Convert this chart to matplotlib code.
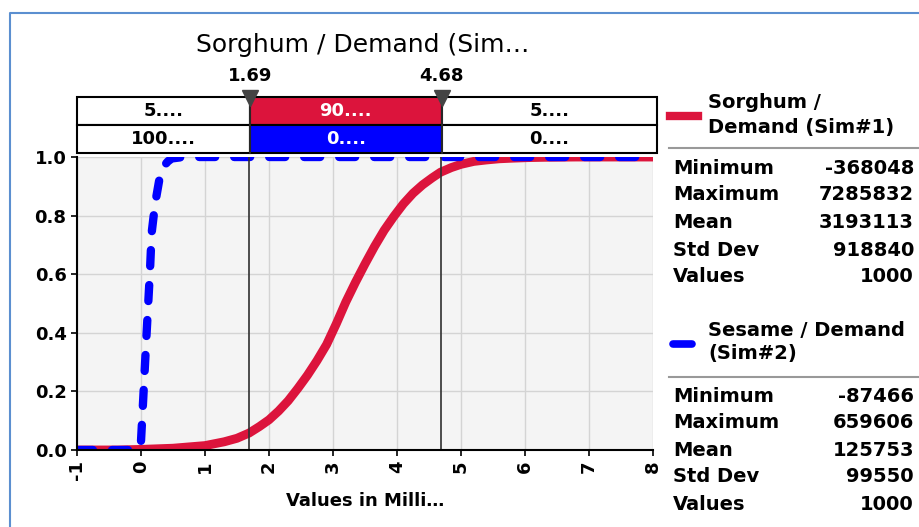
import numpy as np
import matplotlib
matplotlib.use("Agg")
import matplotlib.pyplot as plt
from matplotlib.lines import Line2D
from matplotlib.patches import Rectangle
import matplotlib.transforms as mtransforms

# data (values in millions)
sorghum_x = [-1, -0.37, 0, 0.5, 1.0, 1.3, 1.5, 1.69, 1.85, 2.0, 2.15, 2.3, 2.45, 2.6,
             2.75, 2.9, 3.05, 3.2, 3.35, 3.5, 3.65, 3.8, 3.95, 4.1, 4.25, 4.4, 4.55,
             4.68, 4.85, 5.0, 5.2, 5.4, 5.6, 5.8, 6.05, 6.3, 6.8, 7.29, 8]
sorghum_y = [0, 0, 0.002, 0.006, 0.015, 0.028, 0.04, 0.058, 0.08, 0.103, 0.133, 0.168,
             0.21, 0.255, 0.305, 0.36, 0.43, 0.505, 0.572, 0.635, 0.695, 0.75, 0.797,
             0.84, 0.876, 0.905, 0.929, 0.948, 0.964, 0.975, 0.985, 0.99, 0.994, 0.996,
             0.998, 0.999, 1, 1, 1]
sesame_x = [-1, -0.087, -0.02, 0.0, 0.036, 0.088, 0.14, 0.166, 0.22, 0.30, 0.36, 0.42,
            0.48, 0.66, 8]
sesame_y = [0, 0, 0.01, 0.03, 0.18, 0.40, 0.61, 0.74, 0.84, 0.94, 0.97, 0.985,
            0.995, 1, 1]

left_cut, right_cut = 1.69, 4.68
x_ticks = [-1, 0, 1, 2, 3, 4, 5, 6, 7, 8]
band_sorghum = ["5....", "90....", "5...."]
band_sesame = ["100....", "0....", "0...."]

stat_names = ["Minimum", "Maximum", "Mean", "Std Dev", "Values"]
stats_sorghum = ["-368048", "7285832", "3193113", "918840", "1000"]
stats_sesame = ["-87466", "659606", "125753", "99550", "1000"]

RED = "#dc143c"
BLUE = "#0000ff"

W, H = 919, 527
fig = plt.figure(figsize=(W / 100, H / 100), dpi=100)


def fx(x):
    return x / W


def fy(y):
    return 1 - y / H


# outer frame
fig.add_artist(Line2D([fx(10), fx(10), 1], [0, fy(13), fy(13)], color="#5b8fd0", lw=1.5))

# main axes
ax = fig.add_axes([fx(77), fy(450), fx(653 - 77), (450 - 157) / H])
ax.set_facecolor("#f4f4f4")
ax.set_xlim(-1, 8)
ax.set_ylim(0, 1)
ax.set_xticks(x_ticks)
ax.set_xticklabels([str(t) for t in x_ticks], rotation=90, fontweight="bold")
ax.set_yticks([0, 0.2, 0.4, 0.6, 0.8, 1.0])
ax.set_yticklabels(["0.0", "0.2", "0.4", "0.6", "0.8", "1.0"], fontweight="bold")
ax.grid(True, color="#d4d4d4", lw=1)
ax.set_axisbelow(True)
for s in ["top", "right"]:
    ax.spines[s].set_visible(False)
for s in ["left", "bottom"]:
    ax.spines[s].set_linewidth(1.5)
ax.tick_params(axis="both", labelsize=13, width=1.2, length=4)
ax.set_xlabel("Values in Milli…", fontsize=13, fontweight="bold", labelpad=8)

ax.plot(sorghum_x, sorghum_y, color=RED, lw=6.4, solid_capstyle="round",
        solid_joinstyle="round")
plt.rcParams["lines.scale_dashes"] = False
ax.plot(sesame_x, sesame_y, color=BLUE, lw=6.0, dashes=(11.5, 13.7),
        dash_capstyle="round")
ax.axvline(left_cut, color="#303030", lw=1.2)
ax.axvline(right_cut, color="#303030", lw=1.2)

# band boxes above the plot
bx = fig.add_axes([fx(77), fy(153), fx(655 - 77), (153 - 97) / H], sharex=ax)
bx.set_ylim(0, 2)
bx.axis("off")
edges = [-1, left_cut, right_cut, 8.03]
for i in range(3):
    c_top = RED if i == 1 else "white"
    c_bot = BLUE if i == 1 else "white"
    bx.add_patch(Rectangle((edges[i], 1), edges[i + 1] - edges[i], 1, facecolor=c_top,
                           edgecolor="black", lw=1.5, clip_on=False))
    bx.add_patch(Rectangle((edges[i], 0), edges[i + 1] - edges[i], 1, facecolor=c_bot,
                           edgecolor="black", lw=1.5, clip_on=False))
    tc = "white" if i == 1 else "black"
    mid = (edges[i] + edges[i + 1]) / 2
    bx.text(mid, 1.5, band_sorghum[i], ha="center", va="center", fontsize=13,
            fontweight="bold", color=tc)
    bx.text(mid, 0.5, band_sesame[i], ha="center", va="center", fontsize=13,
            fontweight="bold", color=tc)

trans = mtransforms.blended_transform_factory(bx.transData, bx.transAxes)
for cut in [left_cut, right_cut]:
    bx.plot([cut, cut], [0, 1], color="#303030", lw=1.2, transform=trans, clip_on=False)
    bx.plot(cut, 0.99, marker="v", markersize=11, color="#444444", transform=trans,
            clip_on=False)
    bx.text(cut, 1.38, "%.2f" % cut, ha="center", va="center", fontsize=13,
            fontweight="bold", transform=trans)

fig.text(fx(363), fy(45), "Sorghum / Demand (Sim…", ha="center", va="center", fontsize=18)

# legend / statistics panel
fig.add_artist(Line2D([fx(670), fx(698)], [fy(116), fy(116)], color=RED, lw=6))
fig.text(fx(708), fy(102), "Sorghum /", fontsize=14, fontweight="bold", va="center")
fig.text(fx(708), fy(127), "Demand (Sim#1)", fontsize=14, fontweight="bold", va="center")
fig.add_artist(Line2D([fx(669), fx(918)], [fy(148), fy(148)], color="#999999", lw=1.5))

fig.add_artist(Line2D([fx(673), fx(692)], [fy(344), fy(344)], color=BLUE, lw=5.5,
                      solid_capstyle="round"))
fig.text(fx(708), fy(331), "Sesame / Demand", fontsize=14, fontweight="bold", va="center")
fig.text(fx(708), fy(354), "(Sim#2)", fontsize=14, fontweight="bold", va="center")
fig.add_artist(Line2D([fx(669), fx(918)], [fy(377), fy(377)], color="#999999", lw=1.5))

rows1 = [168, 195, 222, 250, 277]
rows2 = [397, 423, 450, 477, 504]
for name, v1, v2, y1, y2 in zip(stat_names, stats_sorghum, stats_sesame, rows1, rows2):
    fig.text(fx(673), fy(y1), name, fontsize=14, fontweight="bold", va="center")
    fig.text(fx(914), fy(y1), v1, fontsize=14, fontweight="bold", va="center", ha="right")
    fig.text(fx(673), fy(y2), name, fontsize=14, fontweight="bold", va="center")
    fig.text(fx(914), fy(y2), v2, fontsize=14, fontweight="bold", va="center", ha="right")

fig.savefig("out.png", dpi=100)
